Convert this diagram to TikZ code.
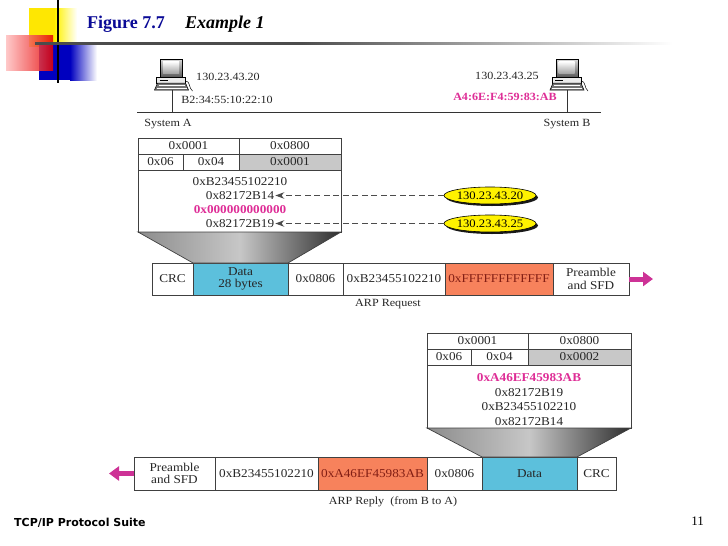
\documentclass[tikz,border=0pt]{standalone}
\usepackage{fontspec}
\setmainfont{Liberation Serif}
\newfontfamily\dgfont[FakeStretch=1.1]{Liberation Serif}
\newfontfamily\footfont{DejaVu Sans}
\usepackage{tikz}
\usetikzlibrary{calc}
\usetikzlibrary{arrows.meta}
\usetikzlibrary{shapes.geometric}
\usetikzlibrary{shadows}
\usetikzlibrary{positioning}

\definecolor{pinktext}{RGB}{222,45,150}
\definecolor{arrowpink}{RGB}{205,50,150}
\definecolor{datacyan}{RGB}{92,192,220}
\definecolor{macsalmon}{RGB}{247,130,92}
\definecolor{cellgray}{RGB}{200,200,200}
\definecolor{titleblue}{RGB}{10,10,150}
\definecolor{macbrown}{RGB}{130,30,20}

\tikzset{
  cell/.style={draw=black!75, line width=0.7pt, inner sep=0pt, outer sep=0pt, align=center,
    font=\dgfont\fontsize{12}{12.5}\selectfont, text=black!85},
  addr/.style={inner sep=1pt, font=\dgfont\fontsize{12}{12}\selectfont, text=black!85},
  lbl/.style={inner sep=0pt, font=\dgfont\fontsize{11}{12}\selectfont, text=black!85},
  ipoval/.style={ellipse, draw=black, fill=yellow, line width=0.6pt, minimum width=92pt, minimum height=17pt,
    inner xsep=-3.5pt, inner ysep=0.5pt, font=\dgfont\fontsize{11.5}{12}\selectfont,
    drop shadow={shadow xshift=2pt, shadow yshift=-2pt, fill=black, opacity=0.9}},
  lookup/.style={-{Stealth[length=9pt,width=6.5pt]}, dash pattern=on 6pt off 3.5pt, line width=1.2pt, draw=black!70},
  sendarrow/.style={-{Triangle[length=10pt,width=14pt]}, line width=5pt, draw=arrowpink},
  funnel/.style={draw=black!75, line width=0.7pt, left color=black!45, right color=black!82, middle color=black!22},
}

% little workstation, origin at top centre of the screen
\newcommand{\drawpc}[1]{%
  \begin{scope}[shift={#1}]
    \shadedraw[top color=black!15, bottom color=black!65, line width=0.5pt] (-11,-1) rectangle (11,17);
    \shade[top color=white, bottom color=black!35] (-8.5,1.5) rectangle (7.5,13);
    \draw[fill=black!8, line width=0.5pt] (-15,17) rectangle (14,23);
    \draw[line width=0.4pt] (-12,20) -- (-4,20);
    \draw[fill=black!55, line width=0.5pt] (-14,23) -- (14,23) -- (17,30) -- (-17,30) -- cycle;
    \draw[white, line width=0.4pt] (-13,25.5) -- (13,25.5) (-15,28) -- (15,28);
    \draw[line width=0.5pt] (14,21) .. controls (19,21) and (17,28) .. (21,31);
  \end{scope}}

\begin{document}
\begin{tikzpicture}[x=1pt, y=-1pt]
  \useasboundingbox (0,0) rectangle (728,546);

  % slide header
  \fill[yellow!90!orange] (29,8) rectangle (55,47);
  \shade[left color=yellow!90!orange, right color=white] (55,8) rectangle (77,47);
  \fill[blue!75!black] (39,45) rectangle (70,80);
  \shade[left color=blue!75!black, right color=white] (70,45) rectangle (97,80);
  \shade[left color=red!25, right color=red!90!black, opacity=0.85] (6,35) rectangle (53,70);
  \draw[line width=2pt] (58,0) -- (58,83);
  \fill[black!70] (35,42) rectangle (300,44.5);
  \shade[left color=black!70, right color=white] (300,42) rectangle (673,44.5);
  \node[anchor=base west, inner sep=0pt, font=\fontsize{18}{20}\selectfont\bfseries, text=titleblue] (figtitle) at (87,28) {Figure 7.7};
  \node[anchor=base west, inner sep=0pt, font=\fontsize{18}{20}\selectfont\bfseries\itshape] (figname) at (185,28) {Example 1};

  % the two systems on the LAN
  \drawpc{(171.5,60)}
  \drawpc{(567,60)}
  \coordinate (netw) at (137,112);
  \coordinate (nete) at (601,112);
  \coordinate (pcafoot) at (172,90);
  \coordinate (pcbfoot) at (567,90);
  \draw[line width=0.9pt, black!80] (netw) -- (nete);
  \draw[line width=0.9pt, black!80] (pcafoot) -- (pcafoot |- netw);
  \draw[line width=0.9pt, black!80] (pcbfoot) -- (pcbfoot |- netw);
  \node[lbl] (ipa) at (228,77) {130.23.43.20};
  \node[lbl] (maca) at (227,100) {B2:34:55:10:22:10};
  \node[lbl] (sysa) at (168,124) {System A};
  \node[lbl] (ipb) at (507,76) {130.23.43.25};
  \node[lbl, font=\dgfont\fontsize{11}{12}\selectfont\bfseries, text=pinktext] (macb) at (505,97) {A4:6E:F4:59:83:AB};
  \node[lbl] (sysb) at (567,124) {System B};

  % ARP request packet
  \node[cell, minimum width=101pt, minimum height=16pt] (rqhw) at (188.5,146) {0x0001};
  \node[cell, minimum width=102pt, minimum height=16pt, right=0pt of rqhw] (rqpr) {0x0800};
  \node[cell, minimum width=45pt, minimum height=16pt] (rqhl) at (160.5,162) {0x06};
  \node[cell, minimum width=56pt, minimum height=16pt, right=0pt of rqhl] (rqpl) {0x04};
  \node[cell, fill=cellgray, minimum width=102pt, minimum height=16pt, right=0pt of rqpl] (rqop) {0x0001};
  \node[cell, minimum width=203pt, minimum height=62pt] (rqbody) at (239.5,201) {};
  \node[addr] (rqsha) at (240,182) {0xB23455102210};
  \node[addr] (rqspa) at (240,195.5) {0x82172B14};
  \node[addr, font=\dgfont\fontsize{12}{12}\selectfont\bfseries, text=pinktext] (rqtha) at (240,209.5) {0x000000000000};
  \node[addr] (rqtpa) at (240,223.5) {0x82172B19};

  \node[ipoval] (ovsrc) at (490,195.5) {130.23.43.20};
  \node[ipoval] (ovdst) at (490,223.5) {130.23.43.25};
  \draw[lookup] (ovsrc.west) -- (rqspa.east |- ovsrc.west);
  \draw[lookup] (ovdst.west) -- (rqtpa.east |- ovdst.west);

  % request frame
  \node[cell, minimum width=41pt, minimum height=32pt] (rqcrc) at (172.5,279) {CRC};
  \node[cell, fill=datacyan, minimum width=95pt, minimum height=32pt, right=0pt of rqcrc] (rqdata) {Data\\28 bytes};
  \node[cell, minimum width=55pt, minimum height=32pt, right=0pt of rqdata] (rqtype) {0x0806};
  \node[cell, minimum width=102pt, minimum height=32pt, right=0pt of rqtype] (rqsrc) {0xB23455102210};
  \node[cell, fill=macsalmon, text=macbrown, minimum width=108pt, minimum height=32pt, right=0pt of rqsrc] (rqdst) {0xFFFFFFFFFFFF};
  \node[cell, minimum width=76pt, minimum height=32pt, right=0pt of rqdst] (rqpre) {Preamble\\and SFD};
  \shadedraw[funnel] (rqbody.south west) -- (rqbody.south east) -- (rqdata.north east) -- (rqdata.north west) -- cycle;
  \coordinate (rqout) at (653,279);
  \draw[sendarrow] (rqpre.east) -- (rqout);
  \node[lbl] (rqcap) at (388,304) {ARP Request};

  % ARP reply packet
  \node[cell, minimum width=101pt, minimum height=16pt] (rphw) at (477.5,341) {0x0001};
  \node[cell, minimum width=103pt, minimum height=16pt, right=0pt of rphw] (rppr) {0x0800};
  \node[cell, minimum width=44pt, minimum height=16pt] (rphl) at (449,357) {0x06};
  \node[cell, minimum width=57pt, minimum height=16pt, right=0pt of rphl] (rppl) {0x04};
  \node[cell, fill=cellgray, minimum width=103pt, minimum height=16pt, right=0pt of rppl] (rpop) {0x0002};
  \node[cell, minimum width=204pt, minimum height=63pt] (rpbody) at (529,396.5) {};
  \node[addr, font=\dgfont\fontsize{12}{12}\selectfont\bfseries, text=pinktext] (rpsha) at (529,378) {0xA46EF45983AB};
  \node[addr] (rpspa) at (529,392.5) {0x82172B19};
  \node[addr] (rptha) at (529,407) {0xB23455102210};
  \node[addr] (rptpa) at (529,421.5) {0x82172B14};

  % reply frame
  \node[cell, minimum width=81pt, minimum height=33pt] (rppre) at (174.5,473.5) {Preamble\\and SFD};
  \node[cell, minimum width=103pt, minimum height=33pt, right=0pt of rppre] (rpsrc) {0xB23455102210};
  \node[cell, fill=macsalmon, text=macbrown, minimum width=109pt, minimum height=33pt, right=0pt of rpsrc] (rpdst) {0xA46EF45983AB};
  \node[cell, minimum width=55pt, minimum height=33pt, right=0pt of rpdst] (rptype) {0x0806};
  \node[cell, fill=datacyan, minimum width=95pt, minimum height=33pt, right=0pt of rptype] (rpdata) {Data};
  \node[cell, minimum width=39pt, minimum height=33pt, right=0pt of rpdata] (rpcrc) {CRC};
  \shadedraw[funnel] (rpbody.south west) -- (rpbody.south east) -- (rpdata.north east) -- (rpdata.north west) -- cycle;
  \coordinate (rpout) at (109,473.5);
  \draw[sendarrow] (rppre.west) -- (rpout);
  \node[lbl] (rpcap) at (393,502) {ARP Reply\ \ (from B to A)};

  % footer
  \node[anchor=west, inner sep=0pt, font=\footfont\bfseries\fontsize{11}{13}\selectfont] (suite) at (14,523) {TCP/IP Protocol Suite};
  \node[anchor=east, inner sep=0pt, font=\fontsize{13}{15}\selectfont] (pageno) at (704,521) {11};
\end{tikzpicture}
\end{document}
